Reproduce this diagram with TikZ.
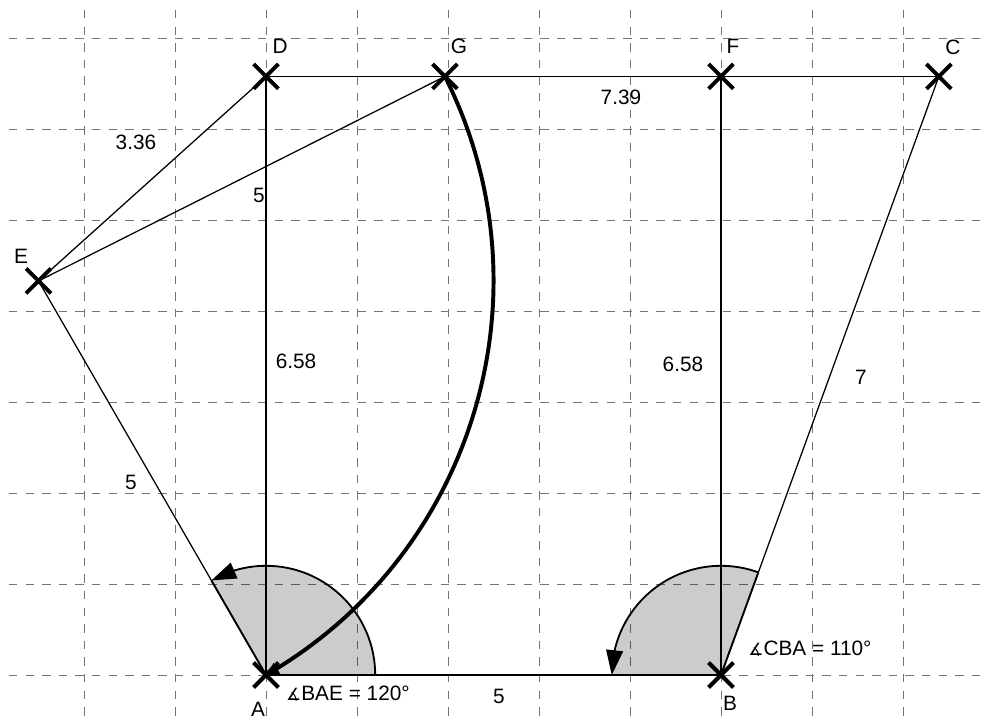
\documentclass[tikz,border=0pt]{standalone}
\usepackage{fontspec}
\setmainfont{Liberation Sans}
\newfontfamily\symfont{DejaVu Sans}
\usetikzlibrary{arrows.meta,shapes.misc,calc,bending}
\begin{document}
\begin{tikzpicture}[x=2.275cm,y=2.275cm,
  gridline/.style={draw=black!55, line width=0.7pt, dash pattern=on 0.21cm off 0.205cm},
  seg/.style={line width=0.9pt},
  bigarc/.style={line width=2.8pt, -{Triangle[length=0.32cm,width=0.3cm]}},
  angfill/.style={fill=black, fill opacity=0.2},
  angedge/.style={line width=1.3pt},
  angarc/.style={line width=1.3pt, -{Triangle[length=0.62cm,width=0.42cm]}},
  pt/.style={cross out, draw, line width=2.8pt, minimum size=0.62cm, inner sep=0pt, outer sep=0pt},
  lbl/.style={font=\fontsize{14.8}{17}\selectfont, inner sep=0pt},
]
\useasboundingbox (-2.92308,-0.49451) rectangle (7.91209,7.41758);
\fill[white] (-2.92308,-0.49451) rectangle (7.91209,7.41758);

% grid
\foreach \i in {-2,...,7} \draw[gridline] (\i,7.3077) -- (\i,-0.4945);
\foreach \j in {0,...,7} \draw[gridline] (-2.8242,\j) -- (7.9121,\j);

% points
\coordinate (pA) at (0,0);
\coordinate (pB) at (5,0);
\coordinate (pC) at (7.3941,6.5778);
\coordinate (pD) at (0,6.5778);
\coordinate (pF) at (5,6.5778);
\coordinate (pE) at (-2.5,4.3301);
\coordinate (pG) at (1.9663,6.5778);

% angle sectors
\fill[angfill] (pA) -- ++(0:1.2) arc[start angle=0,end angle=120,radius=1.2] -- cycle;
\draw[angedge] (pA) -- ++(120:1.2);
\draw[angarc] ($(pA)+(0:1.2)$) arc[start angle=0,end angle=120,radius=1.2];
\fill[angfill] (pB) -- ++(70:1.2) arc[start angle=70,end angle=180,radius=1.2] -- cycle;
\draw[angedge] (pB) -- ++(70:1.2);
\draw[angarc] ($(pB)+(70:1.2)$) arc[start angle=70,end angle=180,radius=1.2];

% segments
\draw[seg] (pA) -- (pB);
\draw[seg] (pA) -- (pD);
\draw[seg] (pD) -- (pC);
\draw[seg] (pB) -- (pF);
\draw[seg] (pB) -- (pC);
\draw[seg] (pA) -- (pE);
\draw[seg] (pE) -- (pD);
\draw[seg] (pE) -- (pG);

% big arc centred at E
\draw[bigarc] (pG) arc[start angle=26.71,end angle=-60,radius=5];

% cross marks
\foreach \p in {A,B,C,D,E,F,G} \node[pt] (x\p) at (p\p) {};

% point labels
\node[lbl] (lD) at (0.154,6.912) {D};
\node[lbl] (lG) at (2.121,6.912) {G};
\node[lbl] (lF) at (5.132,6.912) {F};
\node[lbl] (lC) at (7.549,6.901) {C};
\node[lbl] (lE) at (-2.692,4.604) {E};
\node[lbl] (lA) at (-0.088,-0.380) {A};
\node[lbl] (lB) at (5.099,-0.308) {B};

% length labels
\node[lbl] (l336) at (-1.429,5.857) {3.36};
\node[lbl] (lEG) at (-0.077,5.275) {5};
\node[lbl] (l739) at (3.901,6.352) {7.39};
\node[lbl] (lAD) at (0.330,3.451) {6.58};
\node[lbl] (lBF) at (4.582,3.418) {6.58};
\node[lbl] (lBC) at (6.538,3.275) {7};
\node[lbl] (lAE) at (-1.484,2.121) {5};
\node[lbl] (lAB) at (2.560,-0.231) {5};

% angle labels
\node[lbl] (angA) at (0.901,-0.209) {{\symfont\fontsize{12}{14}\selectfont ∡}BAE = 120°};
\node[lbl] (angB) at (5.978,0.286) {{\symfont\fontsize{12}{14}\selectfont ∡}CBA = 110°};
\end{tikzpicture}
\end{document}
